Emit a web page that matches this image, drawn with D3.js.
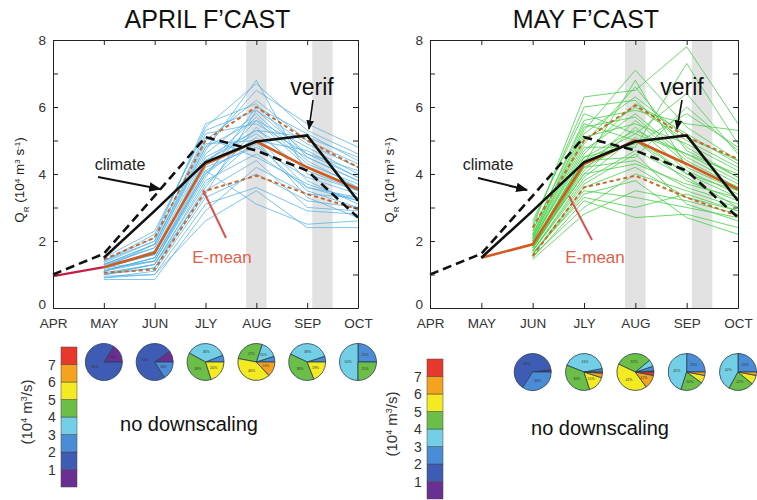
<!DOCTYPE html>
<html><head><meta charset="utf-8">
<script src="https://cdn.jsdelivr.net/npm/d3@7"></script>
<style>body{margin:0;background:#fff}svg{display:block;font-family:"Liberation Sans",Arial,sans-serif}</style>
</head><body><div id="chart"></div>
<script>
// ---------- DATA ----------
const months = ["APR","MAY","JUN","JLY","AUG","SEP","OCT"];
const yTicks = [0,1,2,3,4,5,6,7,8];
const climate = [1.0,1.62,3.35,5.1,4.7,4.1,2.7];           // APR..OCT
const verif = [1.5,2.9,4.35,4.97,5.15,3.2];                 // MAY..OCT
const aprObs = [0.95,1.22];                                 // APR..MAY (observed, April panel)
const aprMean = [1.22,1.65,4.3,4.97,4.2,3.55];              // MAY..OCT
const aprUpper = [1.45,2.1,5.0,6.0,5.0,4.2];                // MAY..OCT
const aprLower = [1.05,1.15,3.5,3.95,3.4,2.95];             // MAY..OCT
const mayMean = [1.5,1.9,4.3,5.0,4.3,3.55];                 // MAY..OCT
const mayUpper = [2.4,5.0,6.05,5.1,4.45];                   // JUN..OCT
const mayLower = [1.55,3.6,3.95,3.3,2.75];                  // JUN..OCT
// April ensemble members, MAY..OCT
const aprEns = [
[1.2,1.6,4.5,5.3,4.5,3.8],[1.1,1.4,4.0,5.6,4.8,4.0],[1.3,1.9,5.0,6.2,5.0,4.3],[0.9,1.1,3.3,4.0,3.2,3.0],
[1.4,2.2,5.4,6.7,5.3,4.6],[1.0,1.3,3.8,4.6,3.6,3.2],[1.2,1.7,4.6,5.8,4.4,3.6],[1.5,2.3,5.3,5.9,4.9,4.2],
[1.1,1.5,4.1,3.1,2.5,2.6],[0.85,0.85,2.9,4.2,3.4,3.3],[1.3,1.8,4.8,6.5,5.5,4.8],[1.2,1.6,4.4,5.2,4.1,3.5],
[1.0,1.2,3.6,5.4,3.8,3.1],[1.4,2.0,5.2,5.5,4.6,4.1],[1.1,1.5,4.2,4.8,3.9,3.4],[1.2,1.4,3.9,6.0,5.2,4.4],
[0.95,1.0,3.1,3.6,2.9,2.8],[1.3,1.9,4.9,5.0,4.7,3.9],[1.2,1.7,4.3,5.7,4.3,3.7],[1.0,1.3,3.5,4.4,3.0,2.9],
[1.4,2.1,5.5,6.1,4.5,3.8],[1.1,1.5,4.0,5.1,3.6,3.3],[1.25,1.8,4.7,6.8,4.0,3.5],[0.9,1.0,2.6,3.5,2.4,2.4],
[1.3,1.6,4.4,5.3,5.1,4.5],[1.15,1.4,4.1,4.9,3.5,3.0],[1.2,1.9,4.8,5.6,4.2,3.6],[1.0,1.2,3.4,5.9,4.6,3.9],
[1.35,2.0,5.1,4.5,3.7,3.2],[1.05,1.3,3.7,5.0,3.3,2.7]
];
// May ensemble members, JUN..OCT
const mayEns = [
[1.9,4.5,5.3,4.6,3.8],[2.1,5.0,6.0,5.0,4.2],[1.6,3.6,4.2,3.3,2.9],[2.4,6.3,6.5,7.8,5.5],
[1.8,4.1,5.6,4.3,3.6],[2.0,4.8,4.8,7.3,4.9],[1.5,3.2,2.7,2.8,2.4],[2.2,5.3,7.1,5.4,4.4],
[1.7,3.9,5.1,4.0,3.3],[1.9,4.4,4.5,6.0,4.7],[2.5,6.0,6.2,4.8,3.9],[1.6,3.5,3.3,3.0,2.7],
[2.0,4.7,5.8,4.5,3.7],[1.8,4.2,5.0,3.8,3.2],[2.3,5.6,5.9,5.5,5.3],[1.55,3.0,4.0,3.5,3.0],
[1.9,4.3,6.8,4.2,3.5],[2.1,5.1,5.5,4.9,4.1],[1.7,3.7,4.6,3.1,2.6],[2.6,5.8,5.2,6.4,4.6],
[1.85,4.0,5.4,4.1,3.4],[1.6,3.4,3.8,2.7,2.2],[2.0,4.6,6.1,5.2,4.3],[1.75,4.2,4.4,3.6,3.1],
[2.2,5.4,5.7,4.4,3.6],[1.45,2.8,3.5,3.2,2.8],[1.9,4.5,4.9,5.8,4.8],[2.05,4.9,6.6,4.7,3.9],
[1.7,3.8,4.7,3.9,3.0],[2.3,5.5,5.0,4.0,3.5],[1.65,3.3,3.0,3.4,2.9],[1.95,4.4,5.2,4.6,4.0],
[2.15,5.2,6.3,5.1,4.4],[1.8,4.0,4.3,3.7,3.3]
];
// Pie categories (10^4 m^3/s bins) and shares (%) per month
const binLabels = ["<1","1-2","2-3","3-4","4-5","5-6","6-7",">7"];
const binColors = ["#6a2f93","#3f5cb4","#4a8dd6","#72cfe6","#6bbf48","#f3ea22","#f5a31e","#e8372b"];
const cbTicks = [1,2,3,4,5,6,7];
const aprPies = [ // MAY..OCT
[16,84,0,0,0,0,0,0],[10,74,16,0,0,0,0,0],[0,0,6,36,38,20,0,0],
[0,0,5,15,27,40,13,0],[0,0,5,38,38,19,0,0],[0,0,25,50,25,0,0,0]];
const mayPies = [ // JUN..OCT
[2,64,34,0,0,0,0,0],[0,0,3,41,36,15,4,1],[0,1,4,6,32,42,12,3],
[0,0,25,45,20,7,3,0],[0,0,25,42,22,8,3,0]];
const bandRanges = [[3.8,4.2],[5.1,5.5]];

// ---------- DRAW ----------
const svg = d3.select("#chart").append("svg").attr("width",757).attr("height",500);
const defs = svg.append("defs");
function marker(id,color){
  defs.append("marker").attr("id",id).attr("viewBox","0 0 10 10").attr("refX",9).attr("refY",5)
    .attr("markerWidth",6).attr("markerHeight",6).attr("orient","auto-start-reverse")
    .append("path").attr("d","M0,1 L10,5 L0,9 Z").attr("fill",color);
}
marker("ab","#111");

function drawPanel(o){
  const g = svg.append("g");
  const x = d3.scaleLinear().domain([0,6]).range([o.x0,o.x1]);
  const y = d3.scaleLinear().domain([0,8]).range([308,40]);
  g.selectAll(".band").data(bandRanges).join("rect")
    .attr("x",d=>x(d[0])).attr("width",d=>x(d[1])-x(d[0]))
    .attr("y",y(8)).attr("height",y(0)-y(8)).attr("fill","#e2e2e2");
  const line = start => d3.line().x((d,i)=>x(i+start)).y(d=>y(d));
  g.selectAll(".ens").data(o.ens).join("path").attr("d",line(o.ensStart))
    .attr("fill","none").attr("stroke",o.ensColor).attr("stroke-width",0.9).attr("opacity",0.85);
  [o.upper,o.lower].forEach(arr=>{
    g.append("path").attr("d",line(o.spreadStart)(arr)).attr("fill","none")
      .attr("stroke","#c9692e").attr("stroke-width",2).attr("stroke-dasharray","4,3");
  });
  if(o.obs) g.append("path").attr("d",line(0)(o.obs)).attr("fill","none").attr("stroke","#c41f45").attr("stroke-width",2.2);
  g.append("path").attr("d",line(1)(o.mean)).attr("fill","none").attr("stroke","#d35a1c").attr("stroke-width",2.6);
  g.append("path").attr("d",line(0)(climate)).attr("fill","none").attr("stroke","#111")
    .attr("stroke-width",2.6).attr("stroke-dasharray","9,5");
  g.append("path").attr("d",line(1)(verif)).attr("fill","none").attr("stroke","#111").attr("stroke-width",2.6);
  const fmt = d=> d%2===0 ? d : "";
  const ax = g.append("g").attr("transform",`translate(${o.x0},0)`)
    .call(d3.axisLeft(y).tickValues(yTicks).tickSize(-5).tickSizeOuter(0).tickPadding(7).tickFormat(fmt));
  ax.selectAll(".tick").filter(d=>d===0).select("text").attr("dy","0.05em");
  const axr = g.append("g").attr("transform",`translate(${o.x1},0)`)
    .call(d3.axisRight(y).tickValues(yTicks).tickSize(-5).tickSizeOuter(0).tickFormat(""));
  const axb = g.append("g").attr("transform",`translate(0,${y(0)})`)
    .call(d3.axisBottom(x).tickValues(d3.range(7)).tickSize(-5).tickSizeOuter(0).tickPadding(10).tickFormat(i=>months[i]));
  const axt = g.append("g").attr("transform",`translate(0,${y(8)})`)
    .call(d3.axisTop(x).tickValues(d3.range(7)).tickSize(-5).tickSizeOuter(0).tickFormat(""));
  [ax,axr,axb,axt].forEach(a=>{
    a.selectAll("path").attr("stroke","#222").attr("stroke-width",1);
    a.selectAll("line").attr("stroke","#222");
    a.selectAll("text").attr("fill","#333").style("font-size","13.5px").style("font-family","'Liberation Sans',Arial,sans-serif");
  });
  svg.append("text").attr("x",(o.x0+o.x1)/2+2).attr("y",28).attr("text-anchor","middle")
    .style("font-size","25px").attr("fill","#111").text(o.title);
  const yl = svg.append("text").attr("transform",`translate(${o.ylx},180) rotate(-90)`)
    .attr("text-anchor","middle").style("font-size","13.5px").attr("fill","#222");
  yl.append("tspan").text("Q");
  yl.append("tspan").attr("baseline-shift","sub").style("font-size","8px").text("R");
  yl.append("tspan").text(" (10");
  yl.append("tspan").attr("baseline-shift","super").style("font-size","8px").text("4");
  yl.append("tspan").text(" m");
  yl.append("tspan").attr("baseline-shift","super").style("font-size","8px").text("3");
  yl.append("tspan").text(" s");
  yl.append("tspan").attr("baseline-shift","super").style("font-size","8px").text("-1");
  yl.append("tspan").text(")");
  const a = o.ann;
  svg.append("text").attr("x",a.climate[0]).attr("y",a.climate[1]).attr("text-anchor","middle")
    .style("font-size","16px").attr("fill","#222").text("climate");
  svg.append("line").attr("x1",a.climArrow[0]).attr("y1",a.climArrow[1]).attr("x2",a.climArrow[2]).attr("y2",a.climArrow[3])
    .attr("stroke","#111").attr("stroke-width",2).attr("marker-end","url(#ab)");
  svg.append("text").attr("x",a.verif[0]).attr("y",a.verif[1]).attr("text-anchor","middle")
    .style("font-size","23px").attr("fill","#111").text("verif");
  svg.append("line").attr("x1",a.verArrow[0]).attr("y1",a.verArrow[1]).attr("x2",a.verArrow[2]).attr("y2",a.verArrow[3])
    .attr("stroke","#111").attr("stroke-width",1.6).attr("marker-end","url(#ab)");
  svg.append("text").attr("x",a.emean[0]).attr("y",a.emean[1]).attr("text-anchor","middle")
    .style("font-size","17px").attr("fill","#e0604a").text("E-mean");
  svg.append("line").attr("x1",a.emArrow[0]).attr("y1",a.emArrow[1]).attr("x2",a.emArrow[2]).attr("y2",a.emArrow[3])
    .attr("stroke","#d9534f").attr("stroke-width",2);

  const cbY = d3.scaleLinear().domain([0,8]).range([o.cbTop+140,o.cbTop]);
  svg.selectAll(null).data(binColors).join("rect")
    .attr("x",o.cbX).attr("width",16).attr("y",(d,i)=>cbY(i+1)).attr("height",(d,i)=>cbY(i)-cbY(i+1))
    .attr("fill",d=>d).attr("stroke","#444").attr("stroke-width",0.5);
  svg.selectAll(null).data(cbTicks).join("text")
    .attr("x",o.cbX-9).attr("y",d=>cbY(d)+5).attr("text-anchor","middle")
    .style("font-size","14px").attr("fill","#333").text(d=>d);
  const cl = svg.append("text").attr("transform",`translate(${o.cbLabX},${o.cbTop+65}) rotate(-90)`)
    .attr("text-anchor","middle").style("font-size","15px").attr("fill","#333");
  cl.append("tspan").text("(10");
  cl.append("tspan").attr("baseline-shift","super").style("font-size","9px").text("4");
  cl.append("tspan").text(" m");
  cl.append("tspan").attr("baseline-shift","super").style("font-size","9px").text("3");
  cl.append("tspan").text("/s)");

  const pie = d3.pie().sort(null).value(d=>d).startAngle(Math.PI/2).endAngle(Math.PI/2-2*Math.PI);
  const arc = d3.arc().innerRadius(0).outerRadius(18.5);
  const lab = d3.arc().innerRadius(10).outerRadius(10);
  o.pies.forEach((p,k)=>{
    const pg = svg.append("g").attr("transform",`translate(${x(k+o.pieStart)},${o.pieY})`);
    const arcs = pie(p).filter(d=>d.data>0);
    pg.selectAll("path").data(arcs).join("path").attr("d",arc)
      .attr("fill",d=>binColors[d.index]).attr("stroke","#2c3e50").attr("stroke-width",0.8);
    pg.selectAll("text").data(arcs.filter(d=>d.data>=12)).join("text")
      .attr("transform",d=>`translate(${lab.centroid(d)})`).attr("text-anchor","middle").attr("dy","0.35em")
      .style("font-size","3.5px").attr("fill","#333").text(d=>d.data+"%");
  });
  svg.append("text").attr("x",o.nd[0]).attr("y",o.nd[1]).attr("text-anchor","middle")
    .style("font-size","20px").attr("fill","#111").text("no downscaling");
}

drawPanel({x0:53,x1:358,title:"APRIL F\u2019CAST",ylx:24,ens:aprEns,ensStart:1,ensColor:"#56b3e6",
  upper:aprUpper,lower:aprLower,spreadStart:1,obs:aprObs,mean:aprMean,
  ann:{climate:[120,170],climArrow:[98,177,160,189],verif:[312,95],verArrow:[313,100,309,129],emean:[222,263],
       emArrow:[226,238,203,190]},
  cbX:61,cbTop:347,cbLabX:32,pies:aprPies,pieStart:1,pieY:362,nd:[189,431]});
drawPanel({x0:430,x1:738,title:"MAY F\u2019CAST",ylx:394,ens:mayEns,ensStart:2,ensColor:"#3fcf3f",
  upper:mayUpper,lower:mayLower,spreadStart:2,obs:null,mean:mayMean,
  ann:{climate:[488,170],climArrow:[478,178,527,190],verif:[682,95],verArrow:[682,100,677,129],emean:[595,263],
       emArrow:[592,240,569,196]},
  cbX:427,cbTop:359,cbLabX:397,pies:mayPies,pieStart:2,pieY:372,nd:[600,435]});
</script>
</body></html>
